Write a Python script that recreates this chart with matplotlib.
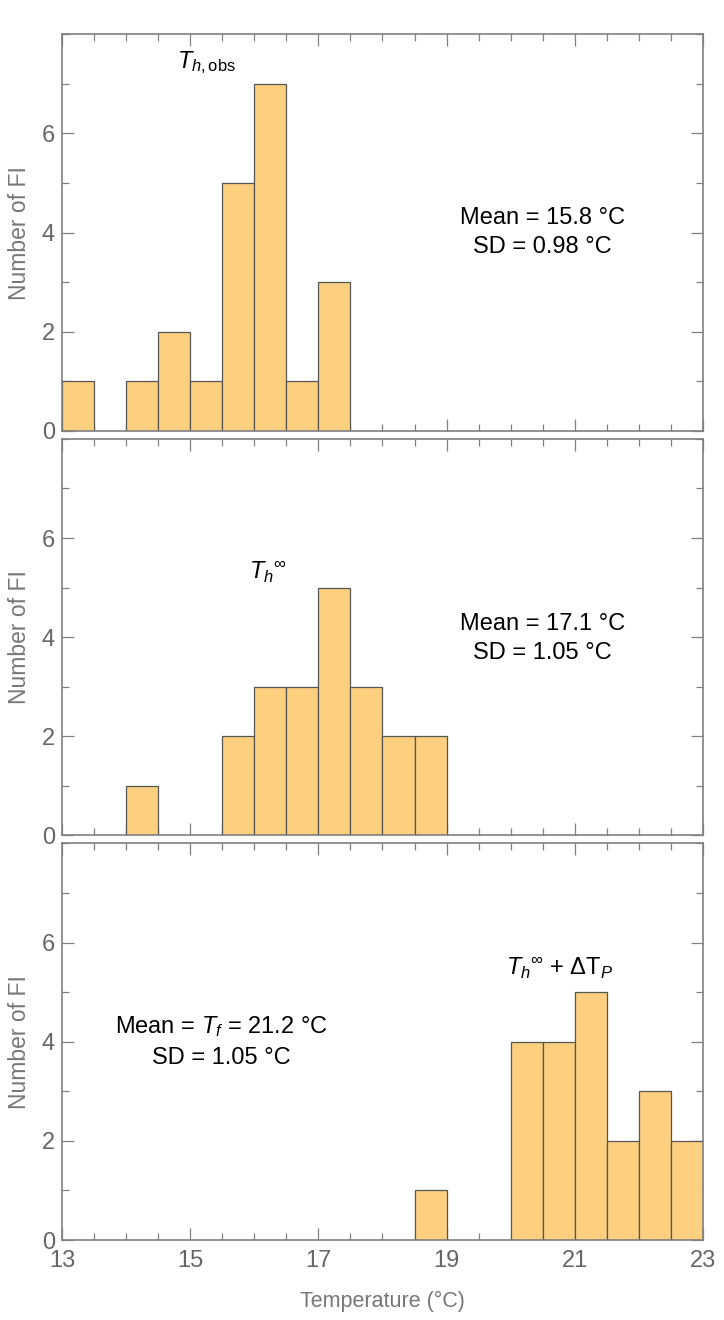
import matplotlib
matplotlib.use("Agg")
import matplotlib.pyplot as plt
from matplotlib.ticker import MultipleLocator

plt.rcParams['font.family'] = ['Liberation Sans', 'DejaVu Sans']
plt.rcParams['mathtext.fontset'] = 'custom'
plt.rcParams['mathtext.rm'] = 'Liberation Sans'
plt.rcParams['mathtext.it'] = 'Liberation Sans:italic'

# histogram data: left edge of each 0.5 degC bin and number of inclusions
bin_width = 0.5
obs_bins = [13, 14, 14.5, 15, 15.5, 16, 16.5, 17]
obs_counts = [1, 1, 2, 1, 5, 7, 1, 3]
inf_bins = [14, 15.5, 16, 16.5, 17, 17.5, 18, 18.5]
inf_counts = [1, 2, 3, 3, 5, 3, 2, 2]
tf_bins = [18.5, 20, 20.5, 21, 21.5, 22, 22.5]
tf_counts = [1, 4, 4, 5, 2, 3, 2]

panel_labels = [r"$T_{h,\mathrm{obs}}$", r"$T_{h}{}^{\infty}$",
                r"$T_{h}{}^{\infty}$ + $\Delta\mathrm{T}_P$"]
stats_text = ["Mean = 15.8 °C\nSD = 0.98 °C",
              "Mean = 17.1 °C\nSD = 1.05 °C",
              "Mean = $T_f$ = 21.2 °C\nSD = 1.05 °C"]
x_ticks = [13, 15, 17, 19, 21, 23]
y_ticks = [0, 2, 4, 6]

fill = '#fdd080'
edge = '#555555'
frame = '#808080'

fig, axes = plt.subplots(3, 1, figsize=(7.24, 13.2), dpi=100, sharex=True)
fig.subplots_adjust(left=0.0856, right=0.971, bottom=0.0606, top=0.974, hspace=0.02)

data = [(obs_bins, obs_counts), (inf_bins, inf_counts), (tf_bins, tf_counts)]
label_pos = [(15.26, 7.43), (16.21, 5.3), (20.77, 5.48)]
stats_pos = [(20.49, 4.0), (20.49, 3.97), (15.49, 4.0)]

for i, ax in enumerate(axes):
    bins, counts = data[i]
    ax.bar(bins, counts, width=bin_width, align='edge', color=fill,
           edgecolor=edge, linewidth=0.9, zorder=2)
    ax.set_xlim(13, 23)
    ax.set_ylim(0, 8)
    ax.set_xticks(x_ticks)
    ax.set_yticks(y_ticks)
    ax.xaxis.set_minor_locator(MultipleLocator(0.5))
    ax.yaxis.set_minor_locator(MultipleLocator(1))
    ax.tick_params(which='both', direction='in', top=True, right=True,
                   color=frame, width=0.9, labelcolor='#666666', labelsize=17)
    ax.tick_params(which='major', length=8.6)
    ax.tick_params(which='minor', length=4.7)
    ax.tick_params(axis='y', pad=5)
    ax.tick_params(axis='x', pad=7)
    for s in ax.spines.values():
        s.set_color(frame)
        s.set_linewidth(1.2)
    ax.set_ylabel("Number of FI", fontsize=16.5, color='#777777', labelpad=8)
    ax.text(label_pos[i][0], label_pos[i][1], panel_labels[i], fontsize=17,
            ha='center', va='center')
    ax.text(stats_pos[i][0], stats_pos[i][1], stats_text[i], fontsize=17,
            ha='center', va='center', linespacing=1.45)

axes[-1].set_xlabel("Temperature (°C)", fontsize=15.5, color='#777777', labelpad=14)

fig.savefig("out.png", dpi=100)
